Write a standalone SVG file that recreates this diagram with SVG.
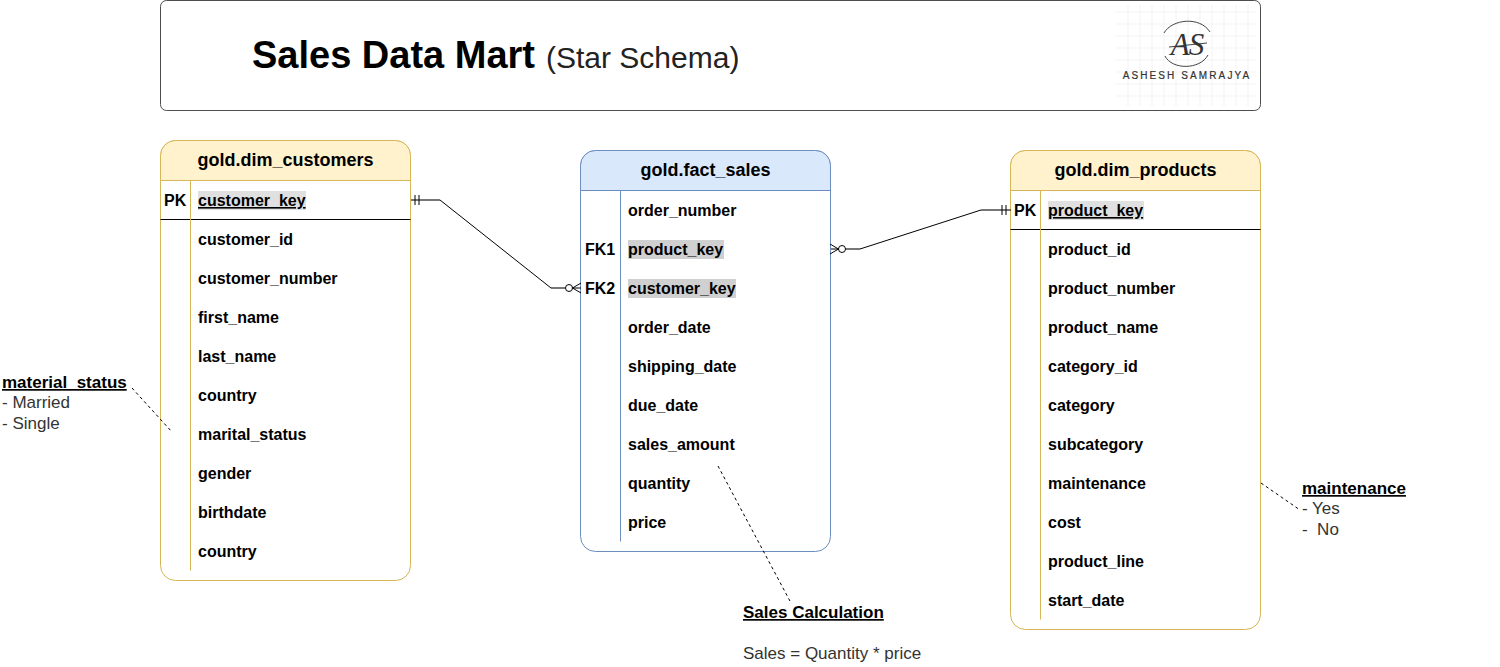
<svg xmlns="http://www.w3.org/2000/svg" width="1500" height="667" viewBox="0 0 1500 667">
<style>
text{font-family:"Liberation Sans",Arial,Helvetica,sans-serif;font-size:16px;fill:#000}
.b{font-weight:bold}
.h{font-weight:bold;font-size:18px;text-anchor:middle}
.nb{font-weight:bold;font-size:17px}
.n{fill:#333;font-size:17px}
.u{text-decoration:underline}
.y{fill:#fff;stroke:#d6b656}
.yh{fill:#fff2cc;stroke:#d6b656}
.bl{fill:#fff;stroke:#6c8ebf}
.blh{fill:#dae8fc;stroke:#6c8ebf}
.ln{fill:none;stroke:#000;stroke-width:1}
.st{fill:none;stroke:#777;stroke-width:2}
.d{fill:none;stroke:#000;stroke-width:1;stroke-dasharray:3 3}
.g{fill:#d0d0d0}
.g2{fill:#e0e0e0}
.grid{stroke:#f3f3f3;stroke-width:1;fill:none}
</style>
<g id="title">
<rect x="160.500" y="0.500" width="1100" height="110" rx="6" fill="#fff" stroke="#4d4d4d"/>
<text x="252" y="68" style="font-size:38px;font-weight:bold">Sales Data Mart</text>
<text x="546" y="68" style="font-size:30px;fill:#222">(Star Schema)</text>
</g>
<g id="logo">
<path class="grid" d="M1116 12H1256M1116 24H1256M1116 36H1256M1116 48H1256M1116 60H1256M1116 72H1256M1116 84H1256M1116 96H1256M1128 5V106M1140 5V106M1152 5V106M1164 5V106M1176 5V106M1188 5V106M1200 5V106M1212 5V106M1224 5V106M1236 5V106M1248 5V106"/>
<path d="M1164 33C1172 19 1200 16 1210 32M1165 56C1172 70 1200 70 1208 55" fill="none" stroke="#444" stroke-width="1"/>
<path d="M1169 47L1207 43" fill="none" stroke="#444" stroke-width="1"/>
<text x="1187" y="55" style="font-family:'Liberation Serif',serif;font-style:italic;font-size:31px;text-anchor:middle;fill:#333;letter-spacing:-1px">AS</text>
<text x="1187" y="79" style="font-size:10px;letter-spacing:2.100px;text-anchor:middle;fill:#333;stroke:#333;stroke-width:.2px">ASHESH SAMRAJYA</text>
</g>
<g id="dim_customers">
<rect class="y" x="160.500" y="140.500" width="250" height="440" rx="15"/>
<path class="yh" d="M160.500 180.500V155.500a15 15 0 0 1 15-15H395.500a15 15 0 0 1 15 15V180.500Z"/>
<path class="ln" d="M160.500 219.500H410.500"/>
<path d="M190.500 180.500V570.500" fill="none" stroke="#d6b656"/>
<text class="h" x="285.500" y="166">gold.dim_customers</text>
<text class="b" x="164" y="206">PK</text>
<rect class="g2" x="198" y="191" width="108" height="19"/>
<text class="b u" x="198" y="206">customer_key</text>
<text class="b" x="198" y="245">customer_id</text>
<text class="b" x="198" y="284">customer_number</text>
<text class="b" x="198" y="323">first_name</text>
<text class="b" x="198" y="362">last_name</text>
<text class="b" x="198" y="401">country</text>
<text class="b" x="198" y="440">marital_status</text>
<text class="b" x="198" y="479">gender</text>
<text class="b" x="198" y="518">birthdate</text>
<text class="b" x="198" y="557">country</text>
</g>
<g id="fact_sales">
<rect class="bl" x="580.500" y="150.500" width="250" height="401" rx="15"/>
<path class="blh" d="M580.500 190.500V165.500a15 15 0 0 1 15-15H815.500a15 15 0 0 1 15 15V190.500Z"/>
<path d="M620.500 190.500V541.500" fill="none" stroke="#6c8ebf"/>
<text class="h" x="705.500" y="176">gold.fact_sales</text>
<text class="b" x="628" y="216">order_number</text>
<text class="b" x="585" y="255">FK1</text>
<rect class="g" x="628" y="240" width="96" height="19"/>
<text class="b" x="628" y="255">product_key</text>
<text class="b" x="585" y="294">FK2</text>
<rect class="g" x="628" y="279" width="108" height="19"/>
<text class="b" x="628" y="294">customer_key</text>
<text class="b" x="628" y="333">order_date</text>
<text class="b" x="628" y="372">shipping_date</text>
<text class="b" x="628" y="411">due_date</text>
<text class="b" x="628" y="450">sales_amount</text>
<text class="b" x="628" y="489">quantity</text>
<text class="b" x="628" y="528">price</text>
</g>
<g id="dim_products">
<rect class="y" x="1010.500" y="150.500" width="250" height="479" rx="15"/>
<path class="yh" d="M1010.500 190.500V165.500a15 15 0 0 1 15-15H1245.500a15 15 0 0 1 15 15V190.500Z"/>
<path class="ln" d="M1010.500 229.500H1260.500"/>
<path d="M1040.500 190.500V619.500" fill="none" stroke="#d6b656"/>
<text class="h" x="1135.500" y="176">gold.dim_products</text>
<text class="b" x="1014" y="216">PK</text>
<rect class="g2" x="1048" y="201" width="96" height="19"/>
<text class="b u" x="1048" y="216">product_key</text>
<text class="b" x="1048" y="255">product_id</text>
<text class="b" x="1048" y="294">product_number</text>
<text class="b" x="1048" y="333">product_name</text>
<text class="b" x="1048" y="372">category_id</text>
<text class="b" x="1048" y="411">category</text>
<text class="b" x="1048" y="450">subcategory</text>
<text class="b" x="1048" y="489">maintenance</text>
<text class="b" x="1048" y="528">cost</text>
<text class="b" x="1048" y="567">product_line</text>
<text class="b" x="1048" y="606">start_date</text>
</g>
<g id="note_material_status">
<text class="nb u" x="2" y="388">material_status</text>
<text class="n" x="2" y="408">- Married</text>
<text class="n" x="2" y="429">- Single</text>
</g>
<g id="note_maintenance">
<text class="nb u" x="1302" y="494">maintenance</text>
<text class="n" x="1302" y="514">- Yes</text>
<text class="n" x="1302" y="535" xml:space="preserve">-  No</text>
</g>
<g id="note_sales">
<text class="nb u" x="743" y="618">Sales Calculation</text>
<text class="n" x="743" y="659">Sales = Quantity * price</text>
</g>
<g id="connectors">
<path class="ln" d="M411 200H440L551 288H581"/>
<path class="st" d="M411 200H440M551 288H565"/>
<path class="ln" d="M415 195V205M419 195V205"/>
<circle cx="569" cy="288" r="3.500" fill="#fff" stroke="#000"/>
<path class="ln" d="M581 283L572.500 288L581 293"/>
<path class="ln" d="M831 249H860L981 210H1011"/>
<path class="st" d="M846 249H860M981 210H1010"/>
<path class="ln" d="M1002 205V215M1006 205V215"/>
<circle cx="842" cy="249" r="3.500" fill="#fff" stroke="#000"/>
<path class="ln" d="M830 244L838.500 249L830 254"/>
<path class="d" d="M132 388L172 432"/>
<path class="d" d="M718 466L791 603"/>
<path class="d" d="M1261 483L1300 510"/>
</g>
</svg>
